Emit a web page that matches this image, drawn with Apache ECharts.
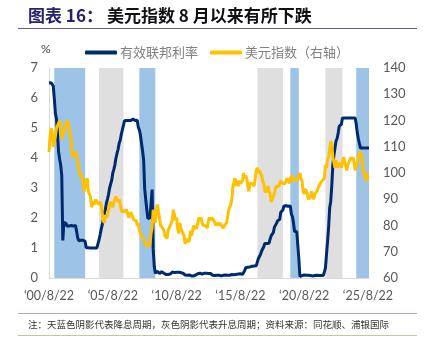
<!DOCTYPE html>
<html><head><meta charset="utf-8">
<script src="https://cdn.jsdelivr.net/npm/echarts@6/dist/echarts.min.js"></script>
<style>html,body{margin:0;padding:0;background:#fff}#c{width:425px;height:346px}</style>
</head><body><div id="c"></div>
<script>
// monthly categories, 2000-08 .. 2025-09
const startYear = 2000, startMonth = 8, monthCount = 302;
const categories = [];
for (let i = 0; i < monthCount; i++) {
  const m = (startMonth - 1 + i) % 12 + 1;
  const y = startYear + Math.floor((startMonth - 1 + i) / 12);
  categories.push(y + '-' + (m < 10 ? '0' + m : m));
}
const fedRate = [
  6.50,6.52,6.51,6.51,6.40,
  5.98,5.49,5.31,4.80,4.21,3.97,3.77,3.40,1.25,1.85,1.80,1.82,
  1.73,1.74,1.73,1.75,1.75,1.75,1.73,1.74,1.75,1.75,1.34,1.24,
  1.24,1.26,1.25,1.26,1.26,1.22,1.01,1.03,1.01,1.01,1.00,0.98,
  1.00,1.01,1.00,1.00,1.00,1.03,1.26,1.43,1.61,1.76,1.93,2.16,
  2.28,2.50,2.63,2.79,3.00,3.04,3.26,3.50,3.62,3.78,4.00,4.16,
  4.29,4.49,4.59,4.79,4.94,4.99,5.24,5.25,5.25,5.25,5.25,5.24,
  5.25,5.26,5.30,5.25,5.25,5.28,5.26,5.02,4.94,4.76,4.49,4.24,
  3.94,2.98,2.61,2.28,1.98,2.00,2.01,2.00,2.95,0.97,0.39,0.16,
  0.15,0.22,0.18,0.15,0.18,0.21,0.16,0.16,0.15,0.12,0.12,0.12,
  0.11,0.13,0.16,0.20,0.20,0.18,0.18,0.19,0.19,0.19,0.19,0.18,
  0.17,0.16,0.14,0.10,0.09,0.09,0.07,0.10,0.08,0.07,0.08,0.07,
  0.08,0.10,0.13,0.14,0.16,0.16,0.16,0.13,0.14,0.16,0.16,0.16,
  0.14,0.15,0.14,0.15,0.11,0.09,0.09,0.08,0.08,0.09,0.08,0.09,
  0.07,0.07,0.08,0.09,0.09,0.10,0.09,0.09,0.09,0.09,0.09,0.12,
  0.11,0.11,0.11,0.12,0.12,0.13,0.13,0.14,0.14,0.12,0.12,0.24,
  0.34,0.38,0.36,0.37,0.37,0.38,0.39,0.40,0.40,0.40,0.41,0.54,
  0.65,0.66,0.79,0.90,0.91,1.04,1.15,1.16,1.15,1.15,1.16,1.30,
  1.41,1.42,1.51,1.69,1.70,1.82,1.91,1.91,1.95,2.19,2.20,2.27,
  2.40,2.40,2.41,2.42,2.39,2.38,2.40,2.13,2.04,1.83,1.55,1.55,
  1.55,1.58,0.65,0.05,0.05,0.08,0.09,0.10,0.09,0.09,0.09,0.09,
  0.09,0.08,0.07,0.07,0.06,0.08,0.10,0.09,0.08,0.08,0.08,0.08,
  0.08,0.08,0.20,0.33,0.77,1.21,1.68,2.33,2.56,3.08,3.78,4.10,
  4.33,4.57,4.65,4.83,5.06,5.08,5.12,5.33,5.33,5.33,5.33,5.33,
  5.33,5.33,5.33,5.33,5.33,5.33,5.33,5.33,5.13,4.83,4.64,4.48,
  4.33,4.33,4.33,4.33,4.33,4.33,4.33,4.33,4.33
];
const dollarIndex = [
  108,114,117,116,110,
  112,114,117,117,119,120,118,113,114,116,117,117,
  120,119,119,115,112,106,107,107,108,107,107,102,
  99,99,99,97,93,95,97,98,93,92,91,87,
  87,89,88,90,89,89,88,89,88,85,82,81,
  84,83,84,84,88,89,89,87,89,90,91,91,
  89,90,90,86,85,86,85,85,86,86,83,84,
  85,84,83,82,82,82,80,81,78,77,76,76,
  75,74,72,73,73,72,73,77,79,86,86,81,
  86,88,85,85,80,80,79,78,76,76,75,78,
  79,80,81,82,86,86,82,83,79,77,81,79,
  78,77,76,73,75,74,74,74,78,76,78,80,
  79,79,79,79,83,82,83,81,80,80,80,80,
  79,82,83,82,83,83,82,81,80,80,81,80,
  81,80,80,79,80,80,81,83,86,87,88,90,
  95,95,98,95,97,95,97,96,96,97,100,98,
  99,98,95,93,96,96,96,96,95,98,101,102,
  100,101,100,99,97,96,93,93,93,95,93,92,
  89,90,90,92,94,95,95,95,95,97,97,96,
  96,96,97,98,98,96,98,98,99,97,98,97,
  97,98,99,100,98,97,93,92,94,94,92,90,
  90,91,93,91,90,92,92,93,94,94,96,96,
  97,97,98,103,102,105,106,109,112,111,106,104,
  102,105,102,102,104,103,102,104,106,106,103,101,
  103,104,104,106,105,106,104,101,101,104,106,108,
  108,107,104,100,99,97,100,98,98
];
const leftTicks = { min: 0, max: 7, interval: 1 };
const rightTicks = { min: 60, max: 140, interval: 10 };
// shaded periods [start, end]
const cutPeriods = [['2001-01','2003-06'],['2007-09','2008-12'],['2019-07','2020-03'],['2024-09','2025-09']];
const hikePeriods = [['2004-07','2006-06'],['2016-12','2018-12'],['2022-04','2023-08']];

const F = '"Noto Sans CJK SC", "Noto Sans", sans-serif';
const NF = 'Lato, "Open Sans", "Noto Sans", sans-serif';
const chart = echarts.init(document.getElementById('c'), null, { renderer: 'canvas' });
const areas = [];
cutPeriods.forEach(p => areas.push([{ xAxis: p[0], itemStyle: { color: '#9DC3E6' } }, { xAxis: p[1] }]));
hikePeriods.forEach(p => areas.push([{ xAxis: p[0], itemStyle: { color: '#DFDFDF' } }, { xAxis: p[1] }]));

chart.setOption({
  animation: false,
  backgroundColor: '#fff',
  grid: { left: 49, right: 56, top: 68, bottom: 68, containLabel: false },
  legend: {
    left: 80, top: 41, itemWidth: 32, itemHeight: 4, itemGap: 12,
    icon: 'roundRect',
    textStyle: { color: '#808080', fontSize: 13, fontFamily: F, padding: [0, 0, 0, -2] },
    data: ['有效联邦利率', '美元指数（右轴）']
  },
  xAxis: {
    type: 'category', data: categories, boundaryGap: false,
    axisLine: { lineStyle: { color: '#D9D9D9', width: 1 } },
    axisTick: { show: false },
    axisLabel: {
      interval: 59, color: '#595959', fontSize: 12.5, fontFamily: NF, margin: 11,
      formatter: v => '\u2018' + v.slice(2, 4) + '/' + (+v.slice(5, 7)) + '/22'
    },
    splitLine: { show: false }
  },
  yAxis: [
    { type: 'value', min: leftTicks.min, max: leftTicks.max, interval: leftTicks.interval,
      axisLine: { show: true, lineStyle: { color: '#D9D9D9' } }, axisTick: { show: false },
      axisLabel: { color: '#595959', fontSize: 13, fontFamily: NF, margin: 11 },
      splitLine: { show: false } },
    { type: 'value', min: rightTicks.min, max: rightTicks.max, interval: rightTicks.interval,
      axisLine: { show: false }, axisTick: { show: false },
      axisLabel: { color: '#595959', fontSize: 13, fontFamily: NF, margin: 14 },
      splitLine: { show: false } }
  ],
  series: [
    { name: 'shade', type: 'line', data: [], markArea: { silent: true, data: areas } },
    { name: '有效联邦利率', type: 'line', yAxisIndex: 0, data: fedRate, showSymbol: false,
      lineStyle: { color: '#002A6E', width: 3 }, itemStyle: { color: '#002A6E' } },
    { name: '美元指数（右轴）', type: 'line', yAxisIndex: 1, data: dollarIndex, showSymbol: false,
      lineStyle: { color: '#FFC000', width: 3 }, itemStyle: { color: '#FFC000' } }
  ],
  graphic: [
    { type: 'text', left: 28, top: 7, style: { text: '图表 16：', fill: '#26226E', font: 'bold 17px ' + F } },
    { type: 'text', left: 107, top: 7, style: { text: '美元指数 8 月以来有所下跌', fill: '#111', font: 'bold 17px ' + F } },
    { type: 'line', shape: { x1: 18, y1: 28.5, x2: 417, y2: 28.5 }, style: { stroke: '#5E5A9C', lineWidth: 1 } },
    { type: 'text', left: 41, top: 43, style: { text: '%', fill: '#404040', font: '12px ' + NF } },
    { type: 'line', shape: { x1: 18, y1: 313.5, x2: 417, y2: 313.5 }, style: { stroke: '#A9A6CC', lineWidth: 1 } },
    { type: 'text', left: 28, top: 320, style: { text: '注：天蓝色阴影代表降息周期，灰色阴影代表升息周期；资料来源：同花顺、浦银国际', fill: '#333', font: '9.5px ' + F } },
    { type: 'line', shape: { x1: 18, y1: 335.5, x2: 417, y2: 335.5 }, style: { stroke: '#C9C49A', lineWidth: 1 } }
  ]
});
</script></body></html>
